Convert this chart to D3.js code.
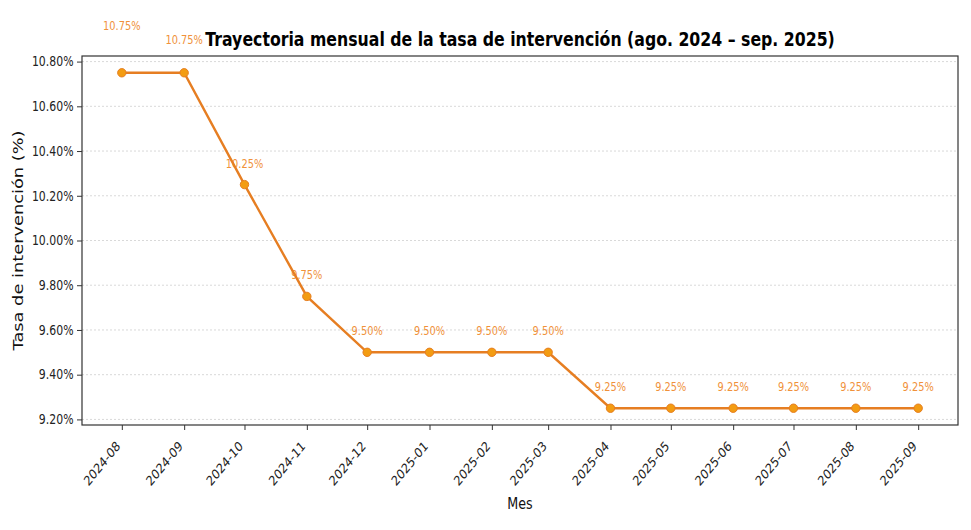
<!DOCTYPE html>
<html>
<head>
<meta charset="utf-8">
<script src="https://cdn.jsdelivr.net/npm/d3@7"></script>
<style>
  body { margin: 0; background: #fff; }
  text { font-family: "DejaVu Sans"; }
</style>
</head>
<body>
<svg id="chart" width="971" height="530"></svg>
<script>
// Data
const months = ["2024-08", "2024-09", "2024-10", "2024-11", "2024-12", "2025-01", "2025-02",
                "2025-03", "2025-04", "2025-05", "2025-06", "2025-07", "2025-08", "2025-09"];
const rates = [10.75, 10.75, 10.25, 9.75, 9.50, 9.50, 9.50, 9.50, 9.25, 9.25, 9.25, 9.25, 9.25, 9.25];
const yTicks = [9.20, 9.40, 9.60, 9.80, 10.00, 10.20, 10.40, 10.60, 10.80];

const parse = d3.timeParse("%Y-%m");
const data = months.map((m, i) => ({ month: m, date: parse(m), rate: rates[i] }));

// Layout
const plotLeft = 82, plotRight = 958, plotTop = 56, plotBottom = 425;
const lineColor = "#E67E22", markerColor = "#F39C12";
const squeeze = 0.82; // the figure text is narrowed horizontally
// extra lift for labels that were pushed apart (first two)
const labelLift = [26, 12];

const svg = d3.select("#chart");

const dateExtent = d3.extent(data, d => d.date);
const pad = (dateExtent[1] - dateExtent[0]) * 0.05;
const xScale = d3.scaleTime()
    .domain([new Date(+dateExtent[0] - pad), new Date(+dateExtent[1] + pad)])
    .range([plotLeft, plotRight]);

const yExtent = d3.extent(rates);
const yPad = (yExtent[1] - yExtent[0]) * 0.05;
const yScale = d3.scaleLinear()
    .domain([yExtent[0] - yPad, yExtent[1] + yPad])
    .range([plotBottom, plotTop]);

// Grid
svg.append("g")
    .selectAll("line")
    .data(yTicks)
    .join("line")
    .attr("x1", plotLeft).attr("x2", plotRight)
    .attr("y1", d => yScale(d)).attr("y2", d => yScale(d))
    .attr("stroke", "#c8c8c8")
    .attr("stroke-width", 0.7)
    .attr("stroke-dasharray", "2,2");

// Axes
const xAxis = d3.axisBottom(xScale)
    .tickValues(data.map(d => d.date))
    .tickFormat(d3.timeFormat("%Y-%m"))
    .tickSizeOuter(0).tickSize(5);

const gx = svg.append("g")
    .attr("transform", `translate(0, ${plotBottom})`)
    .call(xAxis);
gx.select(".domain").remove();
gx.selectAll("line").attr("stroke", "#333");
gx.selectAll("text")
    .attr("x", 0).attr("y", 0)
    .attr("dy", "0.35em")
    .style("font-size", "13.5px")
    .attr("fill", "#222")
    .attr("text-anchor", "end")
    .attr("transform", `translate(-4, 18.5) scale(${squeeze}, 1) rotate(-45)`);

const yAxis = d3.axisLeft(yScale)
    .tickValues(yTicks)
    .tickFormat(d => d.toFixed(2) + "%")
    .tickSizeOuter(0).tickSize(5);

const gy = svg.append("g")
    .attr("transform", `translate(${plotLeft}, 0)`)
    .call(yAxis);
gy.select(".domain").remove();
gy.selectAll("line").attr("stroke", "#333");
gy.selectAll("text")
    .attr("x", 0)
    .attr("transform", `translate(-8.5, 0) scale(${squeeze}, 1)`)
    .style("font-size", "13.3px")
    .attr("fill", "#222");

// Frame
svg.append("rect")
    .attr("x", plotLeft).attr("y", plotTop)
    .attr("width", plotRight - plotLeft).attr("height", plotBottom - plotTop)
    .attr("fill", "none")
    .attr("stroke", "#333")
    .attr("stroke-width", 1.2);

// Value labels (under the line)
svg.append("g")
    .selectAll("text")
    .data(data)
    .join("text")
    .attr("transform", (d, i) =>
        `translate(${xScale(d.date)}, ${yScale(d.rate) - 17 - (labelLift[i] || 0)}) scale(${squeeze}, 1)`)
    .attr("text-anchor", "middle")
    .style("font-size", "12px")
    .attr("fill", "#F0913A")
    .text(d => d.rate.toFixed(2) + "%");

// Line
const line = d3.line()
    .x(d => xScale(d.date))
    .y(d => yScale(d.rate));

svg.append("path")
    .datum(data)
    .attr("d", line)
    .attr("fill", "none")
    .attr("stroke", lineColor)
    .attr("stroke-width", 2.4);

svg.append("g")
    .selectAll("circle")
    .data(data)
    .join("circle")
    .attr("cx", d => xScale(d.date))
    .attr("cy", d => yScale(d.rate))
    .attr("r", 4.2)
    .attr("fill", markerColor)
    .attr("stroke", lineColor)
    .attr("stroke-width", 1);

// Titles
svg.append("text")
    .attr("transform", `translate(${(plotLeft + plotRight) / 2}, 46) scale(${squeeze}, 1)`)
    .attr("text-anchor", "middle")
    .style("font-size", "19.2px")
    .style("font-weight", "bold")
    .attr("fill", "#000")
    .text("Trayectoria mensual de la tasa de intervención (ago. 2024 – sep. 2025)");

svg.append("text")
    .attr("transform", `translate(${(plotLeft + plotRight) / 2}, 509) scale(${squeeze}, 1)`)
    .attr("text-anchor", "middle")
    .style("font-size", "15.5px")
    .attr("fill", "#111")
    .text("Mes");

svg.append("text")
    .attr("transform", `translate(23, ${(plotTop + plotBottom) / 2}) scale(${squeeze}, 1) rotate(-90)`)
    .attr("text-anchor", "middle")
    .style("font-size", "17.8px")
    .attr("fill", "#111")
    .text("Tasa de intervención (%)");
</script>
</body>
</html>
